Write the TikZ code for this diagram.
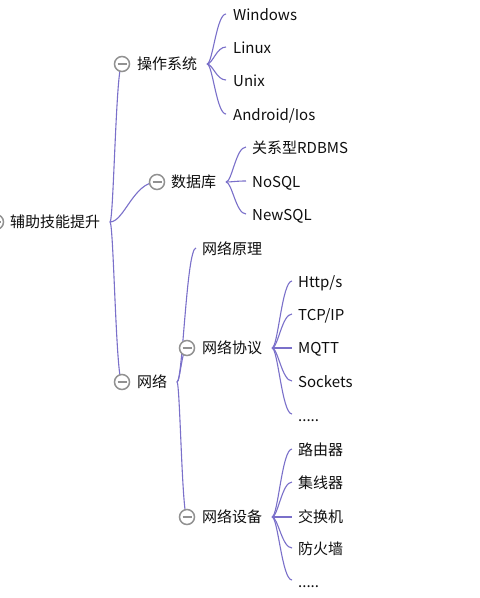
\documentclass[tikz,border=0pt]{standalone}
\usepackage{fontspec}
\setmainfont{Noto Sans CJK SC}
\usetikzlibrary{calc,backgrounds}
\definecolor{lc}{RGB}{122,112,202}
\definecolor{tg}{RGB}{145,145,145}
\definecolor{tx}{RGB}{15,15,15}
\newcommand\mmlink[2]{\draw[lnk] (#1) .. controls ($(#1)!0.3!(#1 -| #2)$) and ($(#2)!0.5!(#2 -| #1)$) .. (#2);}
\begin{document}
\begin{tikzpicture}[x=1pt,y=-1pt,
  lnk/.style={draw=lc, line width=1.1pt},
  txt/.style={anchor=base west, inner sep=0pt, text=tx, font=\fontsize{15}{18}\selectfont},
  tog/.style={circle, draw=tg, fill=white, line width=1.5pt, minimum size=15pt, inner sep=0pt,
    path picture={\draw[tg,line width=1.4pt] ([xshift=-4.5pt]path picture bounding box.center) -- ([xshift=4.5pt]path picture bounding box.center);}}
]
\useasboundingbox (0,0) rectangle (480,598);
\clip (0,0) rectangle (480,598);

% root
\node[tog] (rootT) at (-4,222) {};
\node[txt] (root) at (10,227.5) {辅助技能提升};
\coordinate (rootA) at (110,222);

% level 1
\node[tog] (osT) at (122,64) {};
\node[txt] (os) at (137,69.5) {操作系统};
\coordinate (osA) at (207,64);

\node[tog] (dbT) at (157,182) {};
\node[txt] (db) at (171,187.5) {数据库};
\coordinate (dbA) at (226,182);

\node[tog] (netT) at (122,382) {};
\node[txt] (net) at (137,387.5) {网络};
\coordinate (netA) at (177,382);

% OS leaves
\node[txt] (win) at (233,20.5) {Windows};
\node[txt] (lin) at (233,53.5) {Linux};
\node[txt] (uni) at (233,86.5) {Unix};
\node[txt] (and) at (233,120) {Android/Ios};
\coordinate (winE) at (226,14);
\coordinate (linE) at (226,47);
\coordinate (uniE) at (226,80);
\coordinate (andE) at (226,114);

% DB leaves
\node[txt] (rel) at (252,153.5) {关系型RDBMS};
\node[txt] (nos) at (252,187.5) {NoSQL};
\node[txt] (nws) at (252,220.5) {NewSQL};
\coordinate (relE) at (246,147);
\coordinate (nosE) at (246,181);
\coordinate (nwsE) at (246,214);

% network level 2
\node[txt] (prin) at (202,254) {网络原理};
\coordinate (prinE) at (196,248);
\node[tog] (protT) at (187,348) {};
\node[txt] (prot) at (202,353.5) {网络协议};
\coordinate (protA) at (272,348);
\node[tog] (devT) at (187,517) {};
\node[txt] (dev) at (202,522.5) {网络设备};
\coordinate (devA) at (272,517);

% protocol leaves
\node[txt] (http) at (298,287.5) {Http/s};
\node[txt] (tcp) at (298,320.5) {TCP/IP};
\node[txt] (mqtt) at (298,353.5) {MQTT};
\node[txt] (sock) at (298,387.5) {Sockets};
\node[txt] (pdot) at (298,421.5) {.....};
\coordinate (httpE) at (292,281);
\coordinate (tcpE) at (292,314);
\coordinate (mqttE) at (292,348);
\coordinate (sockE) at (292,381);
\coordinate (pdotE) at (292,414);

% device leaves
\node[txt] (rout) at (298,455.5) {路由器};
\node[txt] (hub) at (298,488.5) {集线器};
\node[txt] (swi) at (298,522.5) {交换机};
\node[txt] (fw) at (298,554.5) {防火墙};
\node[txt] (ddot) at (298,587) {.....};
\coordinate (routE) at (292,449);
\coordinate (hubE) at (292,482);
\coordinate (swiE) at (292,517);
\coordinate (fwE) at (292,548);
\coordinate (ddotE) at (292,580);

\begin{scope}[on background layer]
\fill[white] (0,0) rectangle (480,598);
\mmlink{rootA}{osT.center}
\mmlink{rootA}{dbT.center}
\mmlink{rootA}{netT.center}
\mmlink{osA}{winE}
\mmlink{osA}{linE}
\mmlink{osA}{uniE}
\mmlink{osA}{andE}
\mmlink{dbA}{relE}
\mmlink{dbA}{nosE}
\mmlink{dbA}{nwsE}
\mmlink{netA}{prinE}
\mmlink{netA}{protT.center}
\mmlink{netA}{devT.center}
\mmlink{protA}{httpE}
\mmlink{protA}{tcpE}
\mmlink{protA}{mqttE}
\mmlink{protA}{sockE}
\mmlink{protA}{pdotE}
\mmlink{devA}{routE}
\mmlink{devA}{hubE}
\mmlink{devA}{swiE}
\mmlink{devA}{fwE}
\mmlink{devA}{ddotE}
\end{scope}
\end{tikzpicture}
\end{document}
